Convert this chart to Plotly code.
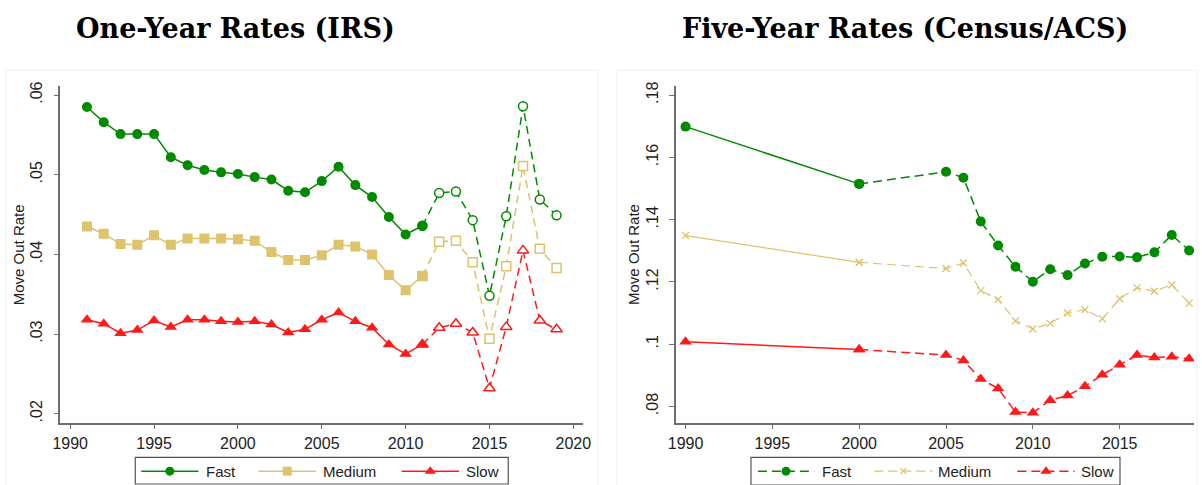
import plotly.graph_objects as go

# ---------------- data ----------------
# One-year move-out rates (IRS), 1991-2019
irs_years = list(range(1991, 2020))
irs_fast = [0.0585, 0.0566, 0.0551, 0.0551, 0.0551, 0.0522, 0.0512, 0.0506, 0.0503, 0.0501,
            0.0497, 0.0494, 0.0480, 0.0478, 0.0492, 0.0510, 0.0487, 0.0472, 0.0447, 0.0425,
            0.0436, 0.0477, 0.0479, 0.0443, 0.0348, 0.0448, 0.0586, 0.0469, 0.0449]
irs_medium = [0.0435, 0.0426, 0.0413, 0.0412, 0.0424, 0.0412, 0.0420, 0.0420, 0.0420, 0.0419,
              0.0417, 0.0403, 0.0393, 0.0393, 0.0399, 0.0412, 0.0410, 0.0400, 0.0374, 0.0355,
              0.0373, 0.0416, 0.0417, 0.0390, 0.0294, 0.0385, 0.0511, 0.0407, 0.0383]
irs_slow = [0.0318, 0.0313, 0.0301, 0.0305, 0.0317, 0.0309, 0.0318, 0.0318, 0.0316, 0.0315,
            0.0316, 0.0312, 0.0302, 0.0306, 0.0318, 0.0327, 0.0316, 0.0308, 0.0287, 0.0275,
            0.0287, 0.0308, 0.0313, 0.0302, 0.0232, 0.0309, 0.0405, 0.0317, 0.0306]
irs_break_year = 2011          # solid through this year, dashed afterwards

# Five-year move-out rates (Census / ACS)
acs_years = [1990, 2000, 2005, 2006, 2007, 2008, 2009, 2010, 2011, 2012, 2013, 2014,
             2015, 2016, 2017, 2018, 2019]
acs_fast = [0.1699, 0.1515, 0.1554, 0.1535, 0.1394, 0.1317, 0.1249, 0.1201, 0.1241, 0.1222,
            0.1259, 0.1281, 0.1282, 0.1279, 0.1295, 0.1351, 0.1301]
acs_medium = [0.1349, 0.1263, 0.1243, 0.1261, 0.1172, 0.1144, 0.1075, 0.1049, 0.1067, 0.1100,
              0.1111, 0.1082, 0.1146, 0.1181, 0.1170, 0.1191, 0.1132]
acs_slow = [0.1008, 0.0983, 0.0965, 0.0948, 0.0888, 0.0858, 0.0782, 0.0780, 0.0820, 0.0835,
            0.0865, 0.0902, 0.0934, 0.0965, 0.0957, 0.0960, 0.0953]
acs_break_year = 2000          # solid through this year, dashed afterwards

series_names = ["Fast", "Medium", "Slow"]

irs_xticks = [1990, 1995, 2000, 2005, 2010, 2015, 2020]
irs_yticks = [0.02, 0.03, 0.04, 0.05, 0.06]
irs_yticktext = [".02", ".03", ".04", ".05", ".06"]
acs_xticks = [1990, 1995, 2000, 2005, 2010, 2015]
acs_yticks = [0.08, 0.10, 0.12, 0.14, 0.16, 0.18]
acs_yticktext = [".08", ".1", ".12", ".14", ".16", ".18"]

titles = ["One-Year Rates (IRS)", "Five-Year Rates (Census/ACS)"]
ytitle = "Move Out Rate"

# ---------------- styling ----------------
W, H = 1202, 485
GREEN = "#008a00"
SAND = "#dcc36c"
RED = "#ff1a1a"
AXIS = "#6e6e6e"
TXT = "#222222"
FONT = "Liberation Sans, Arial, sans-serif"
DASH_L = "8px,5px"
DASH_R = "9px,5px"

colors = [GREEN, SAND, RED]
irs_symbols = ["circle", "square", "triangle-up"]
irs_sizes = [10, 10, 11]
acs_symbols = ["circle", "x-thin", "triangle-up"]
acs_sizes = [10, 7, 11]
acs_widths = [1.5, 1.2, 1.5]


def px_x(p):
    return p / W


def px_y(p):
    return 1 - p / H


def split(years, values, brk):
    solid = [(y, v) for y, v in zip(years, values) if y <= brk]
    dashed = [(y, v) for y, v in zip(years, values) if y >= brk]
    return list(zip(*solid)), list(zip(*dashed))


fig = go.Figure()

# ---- left panel: IRS ----
for name, vals, col, sym, sz in zip(series_names, [irs_fast, irs_medium, irs_slow],
                                    colors, irs_symbols, irs_sizes):
    (sx, sy), (dx, dy) = split(irs_years, vals, irs_break_year)
    # dashed tail with hollow markers (drawn first so the solid part sits on top)
    fig.add_trace(go.Scatter(
        x=dx, y=dy, mode="lines+markers", xaxis="x", yaxis="y", showlegend=False,
        line=dict(color=col, width=1.5, dash=DASH_L),
        marker=dict(symbol=sym, size=sz - 1, color="white", line=dict(color=col, width=1.5)),
        hoverinfo="skip"))
    fig.add_trace(go.Scatter(
        x=sx, y=sy, mode="lines+markers", xaxis="x", yaxis="y", showlegend=False, name=name,
        line=dict(color=col, width=1.5),
        marker=dict(symbol=sym, size=sz, color=col, line=dict(width=0))))

# ---- right panel: Census / ACS ----
for name, vals, col, sym, sz, lw in zip(series_names, [acs_fast, acs_medium, acs_slow],
                                        colors, acs_symbols, acs_sizes, acs_widths):
    (sx, sy), (dx, dy) = split(acs_years, vals, acs_break_year)
    mk = dict(symbol=sym, size=sz, color=col,
              line=dict(color=col, width=1.3 if sym == "x-thin" else 0))
    fig.add_trace(go.Scatter(
        x=dx, y=dy, mode="lines+markers", xaxis="x2", yaxis="y2", showlegend=False,
        line=dict(color=col, width=lw, dash=DASH_R), marker=mk, hoverinfo="skip"))
    fig.add_trace(go.Scatter(
        x=sx, y=sy, mode="lines+markers", xaxis="x2", yaxis="y2", showlegend=False, name=name,
        line=dict(color=col, width=lw), marker=mk))

# ---- legend keys, drawn on a pixel-unit overlay axis ----
legend_boxes = [(129, 457, 507, 484), (753, 457, 1127, 485)]
legend_keys = [
    [(135, 193, 199), (254, 312, 317), (399, 457, 462)],
    [(760, 817, 823), (878, 937, 941), (1023, 1081, 1085)],
]
legend_cy = 471
shapes = []
annotations = []
for panel, (box, keys) in enumerate(zip(legend_boxes, legend_keys)):
    x0, y0, x1, y1 = box
    shapes.append(dict(type="rect", xref="paper", yref="paper",
                       x0=px_x(x0), x1=px_x(x1), y0=px_y(y1), y1=px_y(y0),
                       line=dict(color="#555555", width=1.2), fillcolor="white", layer="below"))
    for i, (k0, k1, tx) in enumerate(keys):
        col = colors[i]
        if panel == 0:
            sym, sz, lw, dash = irs_symbols[i], irs_sizes[i] - 1, 1.5, "solid"
        else:
            sym, sz, lw, dash = acs_symbols[i], acs_sizes[i] - 1, acs_widths[i], DASH_R
        fig.add_trace(go.Scatter(
            x=[k0, (k0 + k1) / 2, k1], y=[legend_cy] * 3, xaxis="x3", yaxis="y3",
            mode="lines", showlegend=False, hoverinfo="skip",
            line=dict(color=col, width=lw, dash=dash)))
        fig.add_trace(go.Scatter(
            x=[(k0 + k1) / 2], y=[legend_cy], xaxis="x3", yaxis="y3",
            mode="markers", showlegend=False, hoverinfo="skip",
            marker=dict(symbol=sym, size=sz, color=col,
                        line=dict(color=col, width=1.3 if sym == "x-thin" else 0))))
        annotations.append(dict(text=series_names[i], xref="paper", yref="paper",
                                x=px_x(tx), y=px_y(legend_cy), xanchor="left", yanchor="middle",
                                showarrow=False, font=dict(family=FONT, size=15, color=TXT)))

# faint panel outlines
shapes.append(dict(type="rect", xref="paper", yref="paper", x0=px_x(-2), x1=px_x(598),
                   y0=px_y(487), y1=px_y(66), line=dict(color="#f0f0f0", width=1), layer="below"))
shapes.append(dict(type="rect", xref="paper", yref="paper", x0=px_x(617), x1=px_x(1205),
                   y0=px_y(487), y1=px_y(66), line=dict(color="#f0f0f0", width=1), layer="below"))

# panel titles
for txt, cx in zip(titles, [231, 909]):
    annotations.append(dict(text="<b>" + txt + "</b>", xref="paper", yref="paper",
                            x=px_x(cx), y=px_y(24), xanchor="center", yanchor="middle",
                            showarrow=False,
                            font=dict(family="DejaVu Serif, serif", size=27, color="black")))

# y-axis titles
for cx in [11, 634]:
    annotations.append(dict(text=ytitle, xref="paper", yref="paper", x=px_x(cx), y=px_y(252),
                            xanchor="center", yanchor="middle", textangle=-90, showarrow=False,
                            font=dict(family=FONT, size=15, color=TXT)))

common_axis = dict(showgrid=False, zeroline=False, showline=True, linecolor=AXIS, linewidth=1.5,
                   ticks="outside", ticklen=5, tickwidth=1.2, tickcolor=AXIS, fixedrange=True)
xtick_font = dict(family=FONT, size=16, color=TXT)
ytick_font = dict(family=FONT, size=16, color=TXT)

ydom = [px_y(422), px_y(82)]
fig.update_layout(
    width=W, height=H, margin=dict(l=0, r=0, t=0, b=0),
    paper_bgcolor="white", plot_bgcolor="rgba(0,0,0,0)", showlegend=False,
    xaxis=dict(domain=[px_x(53), px_x(583)], range=[1989.41, 2020.59], anchor="y",
               tickvals=irs_xticks, tickfont=xtick_font, **common_axis),
    yaxis=dict(domain=ydom, range=[0.01888, 0.06112], anchor="x", tickfont=ytick_font,
               tickvals=irs_yticks, ticktext=irs_yticktext, tickangle=-90,
               ticklabelstandoff=5, **common_axis),
    xaxis2=dict(domain=[px_x(677), 1.0], range=[1989.45, 2019.28], anchor="y2",
                tickvals=acs_xticks, tickfont=xtick_font, **common_axis),
    yaxis2=dict(domain=ydom, range=[0.0748, 0.1829], anchor="x2", tickfont=ytick_font,
                tickvals=acs_yticks, ticktext=acs_yticktext, tickangle=-90,
                ticklabelstandoff=5, **common_axis),
    xaxis3=dict(domain=[0, 1], range=[0, W], visible=False, fixedrange=True, anchor="y3"),
    yaxis3=dict(domain=[0, 1], range=[H, 0], visible=False, fixedrange=True, anchor="x3"),
    shapes=shapes, annotations=annotations,
)

fig.write_html("out.html")
